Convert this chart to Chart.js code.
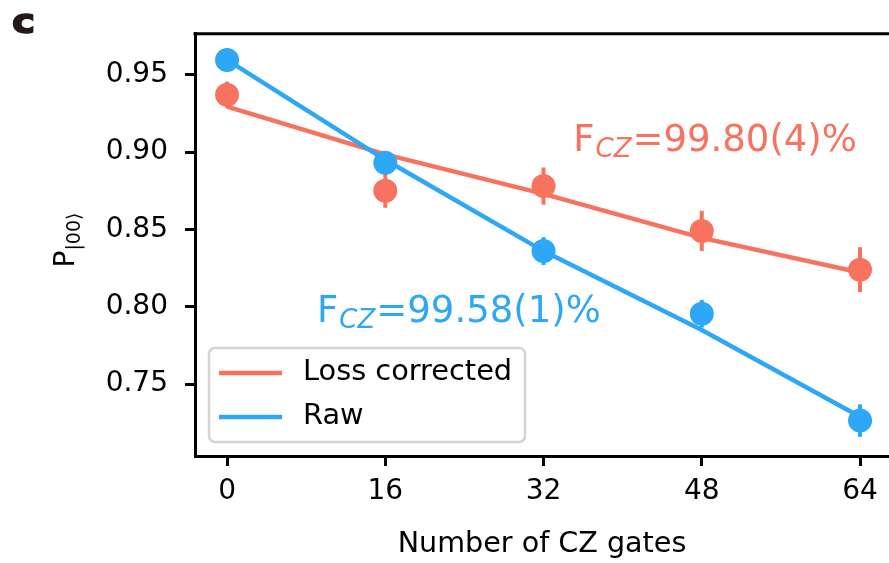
<!DOCTYPE html>
<html lang="en">
<head>
  <meta charset="UTF-8" />
  <title>CZ gate fidelity</title>
  <script src="https://cdn.jsdelivr.net/npm/chart.js"></script>
  <style>
    html, body { margin: 0; padding: 0; background: #fff; }
    canvas { display: block; }
  </style>
</head>
<body>
  <canvas id="czChart" width="889" height="563"></canvas>

  <script>
    // Measured populations vs. number of CZ gates
    const gates = [0, 16, 32, 48, 64];
    const lossCorrected = [0.937, 0.875, 0.878, 0.849, 0.824];
    const lossCorrectedErr = [0.0085, 0.011, 0.012, 0.013, 0.0145];
    const raw = [0.9595, 0.893, 0.836, 0.7955, 0.7265];
    const rawErr = [0.004, 0.005, 0.009, 0.009, 0.0105];

    // Fitted decay curves
    const lossCorrectedFit = [0.9294, 0.8985, 0.873, 0.8445, 0.8222];
    const rawFit = [0.9595, 0.895, 0.836, 0.785, 0.729];

    const xTicks = [0, 16, 32, 48, 64];
    const yTicks = [0.75, 0.80, 0.85, 0.90, 0.95];
    const seriesNames = ['Loss corrected', 'Raw'];
    const fidelityLabels = ['=99.80(4)%', '=99.58(1)%'];

    const RED = '#f7735f';
    const BLUE = '#2ea7f7';
    const FONT = "'DejaVu Sans', sans-serif";

    const pts = (xs, ys) => xs.map((x, i) => ({ x: x, y: ys[i] }));

    // vertical error bars, drawn just before the marker dataset
    const errorBars = {
      id: 'errorBars',
      beforeDatasetDraw(chart, args) {
        const ds = chart.data.datasets[args.index];
        if (!ds.errors) return;
        const { ctx, scales: { x, y } } = chart;
        ctx.save();
        ctx.strokeStyle = ds.backgroundColor;
        ctx.lineWidth = 4;
        ds.data.forEach((p, i) => {
          const px = x.getPixelForValue(p.x);
          ctx.beginPath();
          ctx.moveTo(px, y.getPixelForValue(p.y - ds.errors[i]));
          ctx.lineTo(px, y.getPixelForValue(p.y + ds.errors[i]));
          ctx.stroke();
        });
        ctx.restore();
      }
    };

    // top spine, panel letter, y title, fidelity labels, legend
    const decorations = {
      id: 'decorations',
      afterDraw(chart) {
        const { ctx, chartArea: a, scales: { x, y } } = chart;
        ctx.save();

        ctx.strokeStyle = '#000';
        ctx.lineWidth = 3;
        ctx.beginPath();
        ctx.moveTo(a.left - 1.5, a.top);
        ctx.lineTo(a.right, a.top);
        ctx.stroke();

        // panel letter, a bit wider and heavier
        ctx.save();
        ctx.translate(12, 33);
        ctx.scale(1.18, 1);
        ctx.fillStyle = '#231916';
        ctx.strokeStyle = '#231916';
        ctx.lineWidth = 1.5;
        ctx.font = 'bold 33px ' + FONT;
        ctx.textBaseline = 'alphabetic';
        ctx.textAlign = 'left';
        ctx.fillText('c', 0, 0);
        ctx.strokeText('c', 0, 0);
        ctx.restore();

        // P_|00>
        ctx.save();
        ctx.translate(74, 240);
        ctx.rotate(-Math.PI / 2);
        ctx.fillStyle = '#000';
        ctx.font = '28px ' + FONT;
        const wP = ctx.measureText('P').width;
        ctx.font = '19px ' + FONT;
        const wS = ctx.measureText('|00\u27E9').width;
        const x0 = -(wP + wS) / 2;
        ctx.font = '28px ' + FONT;
        ctx.fillText('P', x0, 0);
        ctx.font = '19px ' + FONT;
        ctx.fillText('|00\u27E9', x0 + wP, 6);
        ctx.restore();

        // F_CZ annotations anchored in data units
        const anchors = [[35.0, 0.9005, RED], [9.1, 0.7905, BLUE]];
        anchors.forEach(([ax, ay, col], i) => {
          let px = x.getPixelForValue(ax);
          const py = y.getPixelForValue(ay);
          ctx.fillStyle = col;
          ctx.font = '37px ' + FONT;
          ctx.fillText('F', px, py);
          px += ctx.measureText('F').width + 1;
          ctx.font = 'italic 26px ' + FONT;
          ctx.fillText('CZ', px, py + 6);
          px += ctx.measureText('CZ').width + 1;
          ctx.font = '37px ' + FONT;
          ctx.fillText(fidelityLabels[i], px, py);
        });

        // legend
        const bx = 209, by = 348, bw = 316, bh = 94;
        ctx.fillStyle = 'rgba(255,255,255,0.8)';
        ctx.strokeStyle = '#d4d4d4';
        ctx.lineWidth = 2.5;
        ctx.beginPath();
        ctx.roundRect(bx, by, bw, bh, 6);
        ctx.fill();
        ctx.stroke();
        [RED, BLUE].forEach((col, i) => {
          const ly = 373 + i * 44;
          ctx.strokeStyle = col;
          ctx.lineWidth = 4.5;
          ctx.beginPath();
          ctx.moveTo(219, ly);
          ctx.lineTo(282, ly);
          ctx.stroke();
          ctx.fillStyle = '#000';
          ctx.font = '28.8px ' + FONT;
          ctx.textBaseline = 'middle';
          ctx.fillText(seriesNames[i], 303, ly);
          ctx.textBaseline = 'alphabetic';
        });

        ctx.restore();
      }
    };

    new Chart(document.getElementById('czChart'), {
      type: 'line',
      data: {
        datasets: [
          {
            data: pts(gates, raw),
            errors: rawErr,
            showLine: false,
            pointRadius: 12,
            pointHoverRadius: 12,
            pointBorderWidth: 0,
            backgroundColor: BLUE,
            pointBackgroundColor: BLUE,
            order: 1
          },
          {
            label: seriesNames[1],
            data: pts(gates, rawFit),
            borderColor: BLUE,
            borderWidth: 4.5,
            pointRadius: 0,
            tension: 0,
            order: 2
          },
          {
            data: pts(gates, lossCorrected),
            errors: lossCorrectedErr,
            showLine: false,
            pointRadius: 12,
            pointHoverRadius: 12,
            pointBorderWidth: 0,
            backgroundColor: RED,
            pointBackgroundColor: RED,
            order: 3
          },
          {
            label: seriesNames[0],
            data: pts(gates, lossCorrectedFit),
            borderColor: RED,
            borderWidth: 4.5,
            pointRadius: 0,
            tension: 0,
            order: 4
          }
        ]
      },
      options: {
        responsive: false,
        animation: false,
        devicePixelRatio: 1,
        layout: { autoPadding: false, padding: { top: 31, right: 0, left: 0, bottom: 0 } },
        plugins: {
          legend: { display: false },
          tooltip: { enabled: false }
        },
        scales: {
          x: {
            type: 'linear',
            min: -3.24,
            max: 66.93,
            afterFit: (s) => {
              s.height = 107;
              // the axis runs off the right edge, so no room kept for the last label
              s.paddingLeft = 0;
              s.paddingRight = 0;
            },
            afterBuildTicks: (s) => { s.ticks = xTicks.map(v => ({ value: v })); },
            grid: { drawOnChartArea: false, tickLength: 10, lineWidth: 3, color: '#000' },
            border: { display: true, color: '#000', width: 3 },
            ticks: { color: '#000', font: { family: FONT, size: 28 }, padding: 9, maxRotation: 0 },
            title: {
              display: true,
              text: 'Number of CZ gates',
              color: '#000',
              font: { family: FONT, size: 28.6 },
              padding: { top: 0, bottom: 1 }
            }
          },
          y: {
            min: 0.7036,
            max: 0.9764,
            afterFit: (s) => { s.width = 195; },
            afterBuildTicks: (s) => { s.ticks = yTicks.map(v => ({ value: v })); },
            grid: { drawOnChartArea: false, tickLength: 10, lineWidth: 3, color: '#000' },
            border: { display: true, color: '#000', width: 3 },
            ticks: {
              color: '#000',
              font: { family: FONT, size: 28 },
              padding: 17,
              callback: (v) => v.toFixed(2)
            }
          }
        }
      },
      plugins: [errorBars, decorations]
    });
  </script>
</body>
</html>
